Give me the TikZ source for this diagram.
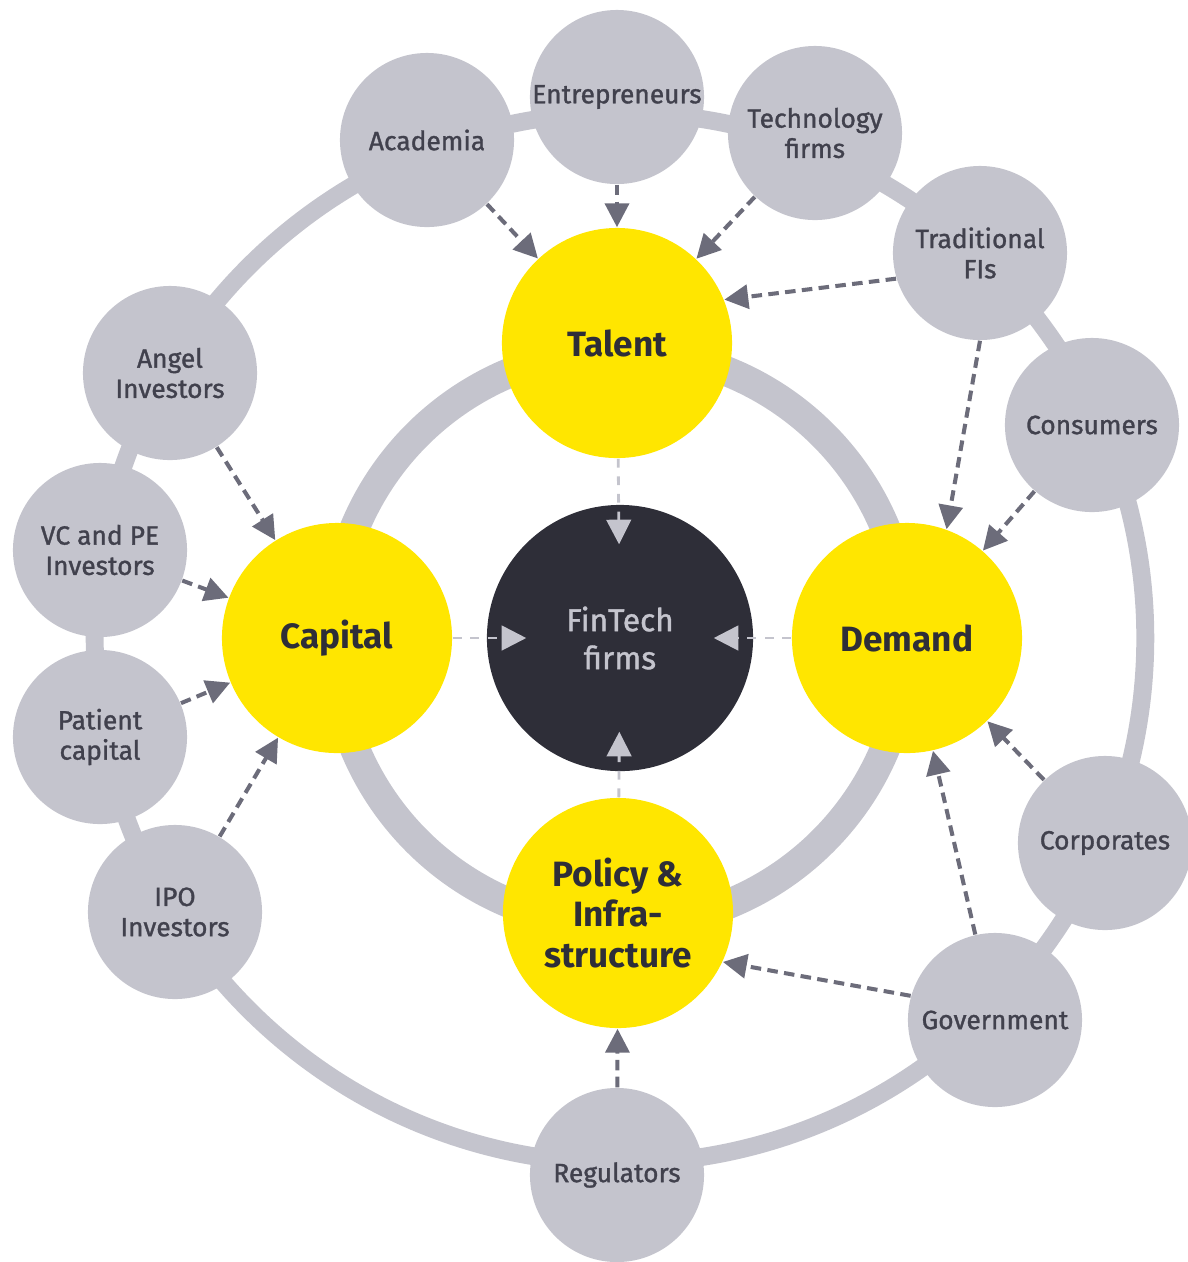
\documentclass[tikz,border=0pt]{standalone}
\usepackage{fontspec}
\setmainfont{Fira Sans}
\newfontfamily\actorfont{Fira Sans}[FakeBold=1.2]
\usepackage{xcolor}
\usepackage{tikz}
\usetikzlibrary{arrows.meta}
\definecolor{ink}{HTML}{2E2E38}
\definecolor{slate}{HTML}{41414D}
\definecolor{mist}{HTML}{C4C4CD}
\definecolor{eyYellow}{HTML}{FFE600}
\definecolor{flowGrey}{HTML}{6C6C7A}
\tikzset{
  outerRing/.style={draw=mist, line width=5.1pt},
  innerRing/.style={draw=mist, line width=8.5pt},
  actorNode/.style={circle, fill=mist, minimum size=1.74cm, inner sep=0pt, align=center,
    text=slate, font=\actorfont\fontsize{7.5}{8.6}\selectfont},
  pillarNode/.style={circle, fill=eyYellow, minimum size=2.3cm, inner sep=0pt, align=center,
    text=ink, font=\bfseries\fontsize{10}{11.4}\selectfont},
  coreNode/.style={circle, fill=ink, minimum size=2.66cm, inner sep=0pt, align=center,
    text=mist, font=\actorfont\fontsize{9}{10.8}\selectfont},
  flowArrow/.style={draw=flowGrey, line width=1.15pt, dash pattern=on 3pt off 1.8pt,
    -{Triangle[length=6.8pt,width=6.8pt]}},
  coreArrow/.style={draw=mist, line width=0.8pt, dash pattern=on 2.5pt off 2.5pt,
    -{Triangle[length=7pt,width=7pt]}, shorten >=-0.4cm}
}

\begin{document}
\begin{tikzpicture}[x=0.01cm, y=-0.01cm]
  \useasboundingbox (0,0) rectangle (1188,1262);
  \coordinate (O) at (620,638);

  % the two rings
  \draw[outerRing] (O) circle (5.25cm);
  \draw[innerRing] (O) circle (2.87cm);

  % outer actors
  \node[actorNode] (academia) at (427,140) {Academia};
  \node[actorNode] (entrepreneurs) at (617,97) {Entrepreneurs};
  \node[actorNode] (techfirms) at (815,133) {Technology\\firms};
  \node[actorNode] (tradfi) at (980,253) {Traditional\\FIs};
  \node[actorNode] (consumers) at (1092,425) {Consumers};
  \node[actorNode] (corporates) at (1105,843) {Corporates};
  \node[actorNode] (government) at (995,1020) {Government};
  \node[actorNode] (regulators) at (617,1175) {Regulators};
  \node[actorNode] (ipo) at (175,912) {IPO\\Investors};
  \node[actorNode] (patient) at (100,737) {Patient\\capital};
  \node[actorNode] (vcpe) at (100,550) {VC and PE\\Investors};
  \node[actorNode] (angel) at (170,373) {Angel\\Investors};

  % pillars
  \node[pillarNode] (talent) at (617,343) {Talent};
  \node[pillarNode] (capital) at (337,638) {Capital};
  \node[pillarNode] (demand) at (907,638) {Demand};
  \node[pillarNode] (policy) at (618,913) {Policy \&\\Infra-\\structure};

  \node[coreNode] (fintech) at (O) {FinTech\\firms};

  % flows into the pillars
  \draw[flowArrow] (academia) -- (talent);
  \draw[flowArrow] (entrepreneurs) -- (talent);
  \draw[flowArrow] (techfirms) -- (talent);
  \draw[flowArrow] (tradfi.197) -- (talent.22);
  \draw[flowArrow] (tradfi.-90) -- (demand.70);
  \draw[flowArrow] (consumers) -- (demand);
  \draw[flowArrow] (corporates) -- (demand);
  \draw[flowArrow] (government) -- (demand);
  \draw[flowArrow] (government.164) -- (policy.-25);
  \draw[flowArrow] (regulators) -- (policy);
  \draw[flowArrow] (angel) -- (capital);
  \draw[flowArrow] (vcpe) -- (capital);
  \draw[flowArrow] (patient) -- (capital);
  \draw[flowArrow] (ipo) -- (capital);

  % pillars into the core
  \draw[coreArrow] (talent) -- (fintech);
  \draw[coreArrow] (capital) -- (fintech);
  \draw[coreArrow] (demand) -- (fintech);
  \draw[coreArrow] (policy) -- (fintech);
\end{tikzpicture}
\end{document}
